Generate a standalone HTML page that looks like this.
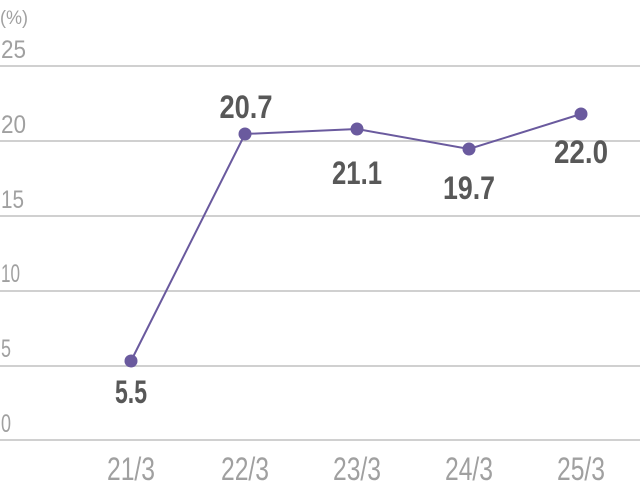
<!DOCTYPE html>
<html><head><meta charset="utf-8"><style>
html,body{margin:0;padding:0;background:#fff;width:640px;height:500px;overflow:hidden}
text{font-family:"Liberation Sans Narrow","Liberation Sans",sans-serif}
</style></head><body>
<svg width="640" height="500" xmlns="http://www.w3.org/2000/svg">
<g stroke="#d0d0d0" stroke-width="2">
<line x1="0" y1="66" x2="640" y2="66"/>
<line x1="0" y1="141" x2="640" y2="141"/>
<line x1="0" y1="216" x2="640" y2="216"/>
<line x1="0" y1="291" x2="640" y2="291"/>
<line x1="0" y1="366" x2="640" y2="366"/>
<line x1="0" y1="440" x2="640" y2="440"/>
</g>
<g fill="#a0a0a0" font-size="25">
<text x="0" y="24" font-size="19" textLength="28" lengthAdjust="spacingAndGlyphs">(%)</text>
<text x="1" y="58" textLength="25" lengthAdjust="spacingAndGlyphs">25</text>
<text x="1" y="133" textLength="25" lengthAdjust="spacingAndGlyphs">20</text>
<text x="1" y="208" textLength="23" lengthAdjust="spacingAndGlyphs">15</text>
<text x="1" y="282" textLength="19" lengthAdjust="spacingAndGlyphs">10</text>
<text x="1" y="357" textLength="10" lengthAdjust="spacingAndGlyphs">5</text>
<text x="1" y="432" textLength="10" lengthAdjust="spacingAndGlyphs">0</text>
</g>
<g fill="#a0a0a0" font-size="32" text-anchor="middle">
<text x="131" y="480" textLength="48" lengthAdjust="spacingAndGlyphs">21/3</text>
<text x="245" y="480" textLength="48" lengthAdjust="spacingAndGlyphs">22/3</text>
<text x="357" y="480" textLength="48" lengthAdjust="spacingAndGlyphs">23/3</text>
<text x="469" y="480" textLength="48" lengthAdjust="spacingAndGlyphs">24/3</text>
<text x="581" y="480" textLength="48" lengthAdjust="spacingAndGlyphs">25/3</text>
</g>
<polyline points="131,361 245,134 357,129 469,149 581,114" fill="none" stroke="#6a5a9e" stroke-width="2"/>
<g fill="#6a5a9e">
<circle cx="131" cy="361" r="6.5"/>
<circle cx="245" cy="134" r="6.5"/>
<circle cx="357" cy="129" r="6.5"/>
<circle cx="469" cy="149" r="6.5"/>
<circle cx="581" cy="114" r="6.5"/>
</g>
<g fill="#585858" font-size="32" font-weight="bold" text-anchor="middle">
<text x="131" y="403" textLength="32" lengthAdjust="spacingAndGlyphs">5.5</text>
<text x="246" y="118" textLength="53" lengthAdjust="spacingAndGlyphs">20.7</text>
<text x="357" y="184" textLength="50" lengthAdjust="spacingAndGlyphs">21.1</text>
<text x="469" y="199" textLength="52" lengthAdjust="spacingAndGlyphs">19.7</text>
<text x="581" y="163" textLength="54" lengthAdjust="spacingAndGlyphs">22.0</text>
</g>
</svg>
</body></html>
